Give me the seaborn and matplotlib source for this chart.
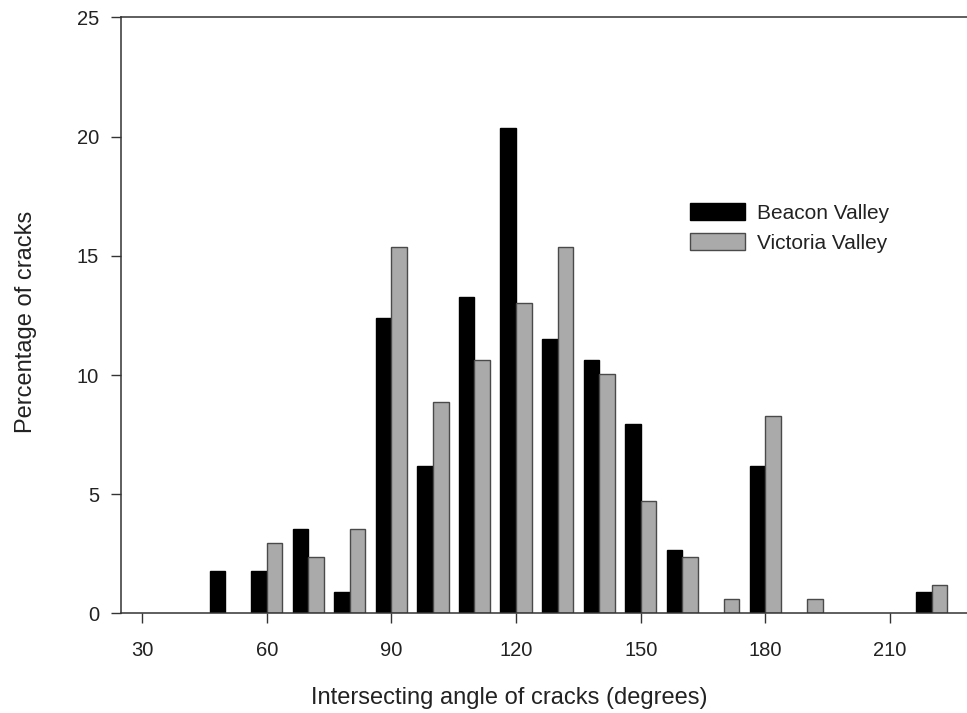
import pandas as pd
import numpy as np
import seaborn as sns
import matplotlib.pyplot as plt

# angle bins (degrees) and percentages
angles = [50, 60, 70, 80, 90, 100, 110, 120, 130, 140, 150, 160, 170, 180, 190, 200, 210, 220]
beacon = [1.77, 1.77, 3.54, 0.88, 12.39, 6.19, 13.27, 20.35, 11.50, 10.62, 7.96, 2.65, 0, 6.19, 0, 0, 0, 0.88]
victoria = [0, 2.96, 2.37, 3.55, 15.38, 8.88, 10.65, 13.02, 15.38, 10.06, 4.73, 2.37, 0.59, 8.28, 0.59, 0, 0, 1.18]
sites = ['Beacon Valley', 'Victoria Valley']
colors = {'Beacon Valley': '#000000', 'Victoria Valley': '#aaaaaa'}
edges = {'Beacon Valley': '#000000', 'Victoria Valley': '#4a4a4a'}

df = pd.concat([
    pd.DataFrame({'angle': angles, 'pct': beacon, 'site': sites[0]}),
    pd.DataFrame({'angle': angles, 'pct': victoria, 'site': sites[1]}),
])
df = df[df['pct'] > 0]

sns.set_style('ticks')
plt.rcParams['font.family'] = ['Liberation Sans', 'DejaVu Sans']
txt = '#222222'

fig = plt.figure(figsize=(9.67, 7.13), dpi=100)
ax = fig.add_axes([0.1254, 0.1396, 0.881, 0.836])

sns.barplot(data=df, x='angle', y='pct', hue='site', hue_order=sites,
            palette=colors, native_scale=True, width=0.75, dodge=True,
            linewidth=1, saturation=1, ax=ax, legend=False)

for cont, s in zip(ax.containers, sites):
    for b in cont:
        b.set_edgecolor(edges[s])

ax.set_xlim(25, 230)
ax.set_ylim(0, 25)
ax.set_xticks([30, 60, 90, 120, 150, 180, 210])
ax.set_yticks([0, 5, 10, 15, 20, 25])

for side in ['left', 'bottom', 'top']:
    ax.spines[side].set_linewidth(1.1)
    ax.spines[side].set_color('#333333')
ax.spines['right'].set_visible(False)

ax.tick_params(axis='x', direction='out', length=7, width=1, pad=13,
               labelsize=14.5, colors='#333333', labelcolor=txt)
ax.tick_params(axis='y', direction='out', length=7, width=1, pad=9,
               labelsize=14.5, colors='#333333', labelcolor=txt)

ax.set_xlabel('Intersecting angle of cracks (degrees)', fontsize=17, color=txt, labelpad=19)
ax.set_ylabel('Percentage of cracks', fontsize=17, color=txt, labelpad=29)
ax.xaxis.label.set_x(0.455)
ax.yaxis.label.set_y(0.49)

handles = [plt.Rectangle((0, 0), 1, 1, facecolor=colors[s], edgecolor=edges[s], linewidth=1)
           for s in sites]
leg = ax.legend(handles, sites, loc='upper left', bbox_to_anchor=(690 / 967, 1 - 203 / 713),
                bbox_transform=fig.transFigure, frameon=False, fontsize=15,
                handlelength=2.64, handleheight=0.87, handletextpad=0.58,
                labelspacing=0.52, borderpad=0, borderaxespad=0)
for t in leg.get_texts():
    t.set_color(txt)

fig.savefig('out.png', dpi=100)
